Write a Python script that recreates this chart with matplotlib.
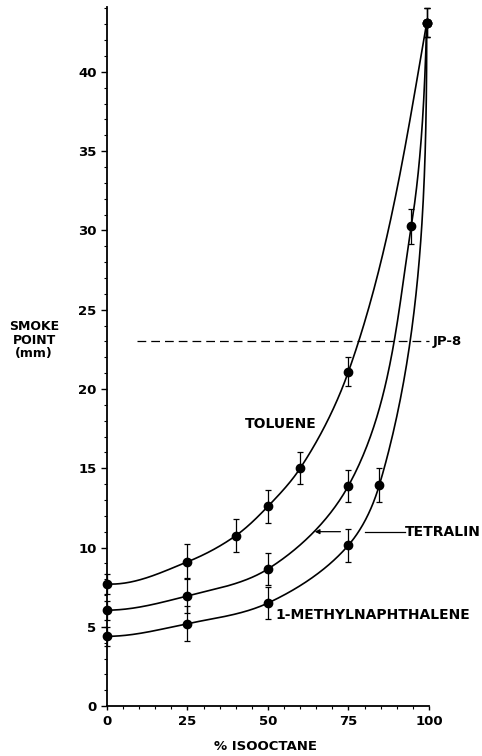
import numpy as np
import matplotlib
matplotlib.use("Agg")
import matplotlib.pyplot as plt
from matplotlib.ticker import MultipleLocator

plt.rcParams['font.family'] = ['DejaVu Sans']

# ---- data ----
tol_x = [0, 25, 40, 50, 60, 75, 99.3]
tol_y = [7.7, 9.1, 10.75, 12.6, 15.0, 21.1, 43.1]
tol_e = [0.6, 1.1, 1.05, 1.05, 1.0, 0.9, 0.9]

tet_x = [0, 25, 50, 75, 94.5, 99.3]
tet_y = [6.05, 6.95, 8.65, 13.9, 30.25, 43.1]
tet_e = [0.6, 1.1, 1.0, 1.0, 1.1, 0.9]

mn_x = [0, 25, 50, 75, 84.6, 99.3]
mn_y = [4.4, 5.2, 6.5, 10.15, 13.95, 43.1]
mn_e = [0.6, 1.1, 1.0, 1.05, 1.05, 0.9]

jp8_level = 23.0
x_ticks = [0, 25, 50, 75, 100]
y_ticks = [0, 5, 10, 15, 20, 25, 30, 35, 40]

# pixel-like aspect scale for the smooth drawn curve
SX, SY = 3.21, 15.85


def smooth_curve(x, y, start_dir, end_dir, n=80):
    """Parametric cubic Hermite through the points (drawing aid only)."""
    P = np.column_stack([np.asarray(x, float) * SX, np.asarray(y, float) * SY])
    seg = np.diff(P, axis=0)
    L = np.hypot(seg[:, 0], seg[:, 1])
    U = seg / L[:, None]
    D = np.zeros_like(P)
    sd = np.array(start_dir, float); ed = np.array(end_dir, float)
    D[0] = sd / np.hypot(*sd)
    D[-1] = ed / np.hypot(*ed)
    for k in range(1, len(P) - 1):
        v = U[k - 1] + U[k]
        D[k] = v / np.hypot(*v)
    pts = []
    t = np.linspace(0, 1, n)[:, None]
    h00 = 2*t**3 - 3*t**2 + 1; h10 = t**3 - 2*t**2 + t
    h01 = -2*t**3 + 3*t**2; h11 = t**3 - t**2
    for k in range(len(P) - 1):
        seg_pts = h00*P[k] + h10*L[k]*D[k] + h01*P[k+1] + h11*L[k]*D[k+1]
        pts.append(seg_pts)
    pts = np.vstack(pts)
    return pts[:, 0] / SX, pts[:, 1] / SY


fig = plt.figure(figsize=(4.82, 7.56), dpi=100)
ax = fig.add_axes([0.222, 0.066, 0.668, 0.925])
ax.set_xlim(0, 100)
ax.set_ylim(0, 44.1)

curves = [(tol_x, tol_y, tol_e, (1, -0.05), (0.17, 0.985)),
          (tet_x, tet_y, tet_e, (1, 0.0), (0.03, 1.0)),
          (mn_x, mn_y, mn_e, (1, 0.0), (0.0, 1.0))]
for xs_, ys_, es_, sd, ed in curves:
    cx, cy = smooth_curve(xs_, ys_, sd, ed)
    ax.plot(cx, cy, color='black', lw=1.2, clip_on=False)
    ax.errorbar(xs_, ys_, yerr=es_, fmt='o', color='black', ms=6,
                elinewidth=0.9, capsize=2.5, capthick=0.9, clip_on=False, zorder=3)

ax.plot([9.3, 100], [jp8_level, jp8_level], color='black', lw=0.9,
        dashes=(7, 4), clip_on=False)
ax.text(101, jp8_level, 'JP-8', fontsize=9.5, fontweight='bold',
        va='center', ha='left', clip_on=False)

ax.text(54, 17.8, 'TOLUENE', fontsize=10, fontweight='bold', ha='center', va='center')
ax.annotate('', xy=(64.5, 11.0), xytext=(72.5, 11.0),
            arrowprops=dict(arrowstyle='-|>', color='black', lw=0.9,
                            mutation_scale=7, shrinkA=0, shrinkB=0))
ax.plot([80, 92.5], [11.0, 11.0], color='black', lw=0.9)
ax.text(92.5, 11.0, 'TETRALIN', fontsize=10, fontweight='bold',
        ha='left', va='center', clip_on=False)
ax.text(52.3, 5.75, '1-METHYLNAPHTHALENE', fontsize=10, fontweight='bold',
        ha='left', va='center', clip_on=False)

ax.spines['top'].set_visible(False)
ax.spines['right'].set_visible(False)
ax.spines['left'].set_linewidth(1.3)
ax.spines['bottom'].set_linewidth(1.3)
ax.set_xticks(x_ticks)
ax.set_yticks(y_ticks)
ax.xaxis.set_minor_locator(MultipleLocator(5))
ax.yaxis.set_minor_locator(MultipleLocator(1))
ax.tick_params(which='major', direction='out', length=4, width=1.0, labelsize=9.5)
ax.tick_params(axis='x', which='major', length=3)
ax.tick_params(which='minor', direction='out', length=2, width=0.8)
for lab in ax.get_xticklabels() + ax.get_yticklabels():
    lab.set_fontweight('bold')

fig.text(34 / 482, 1 - 340 / 756, 'SMOKE\nPOINT\n(mm)', fontsize=9,
         fontweight='bold', ha='center', va='center', linespacing=1.0)
fig.text(266 / 482, 1 - 747 / 756, '% ISOOCTANE', fontsize=9.5,
         fontweight='bold', ha='center', va='center')

fig.savefig('out.png', dpi=100)
